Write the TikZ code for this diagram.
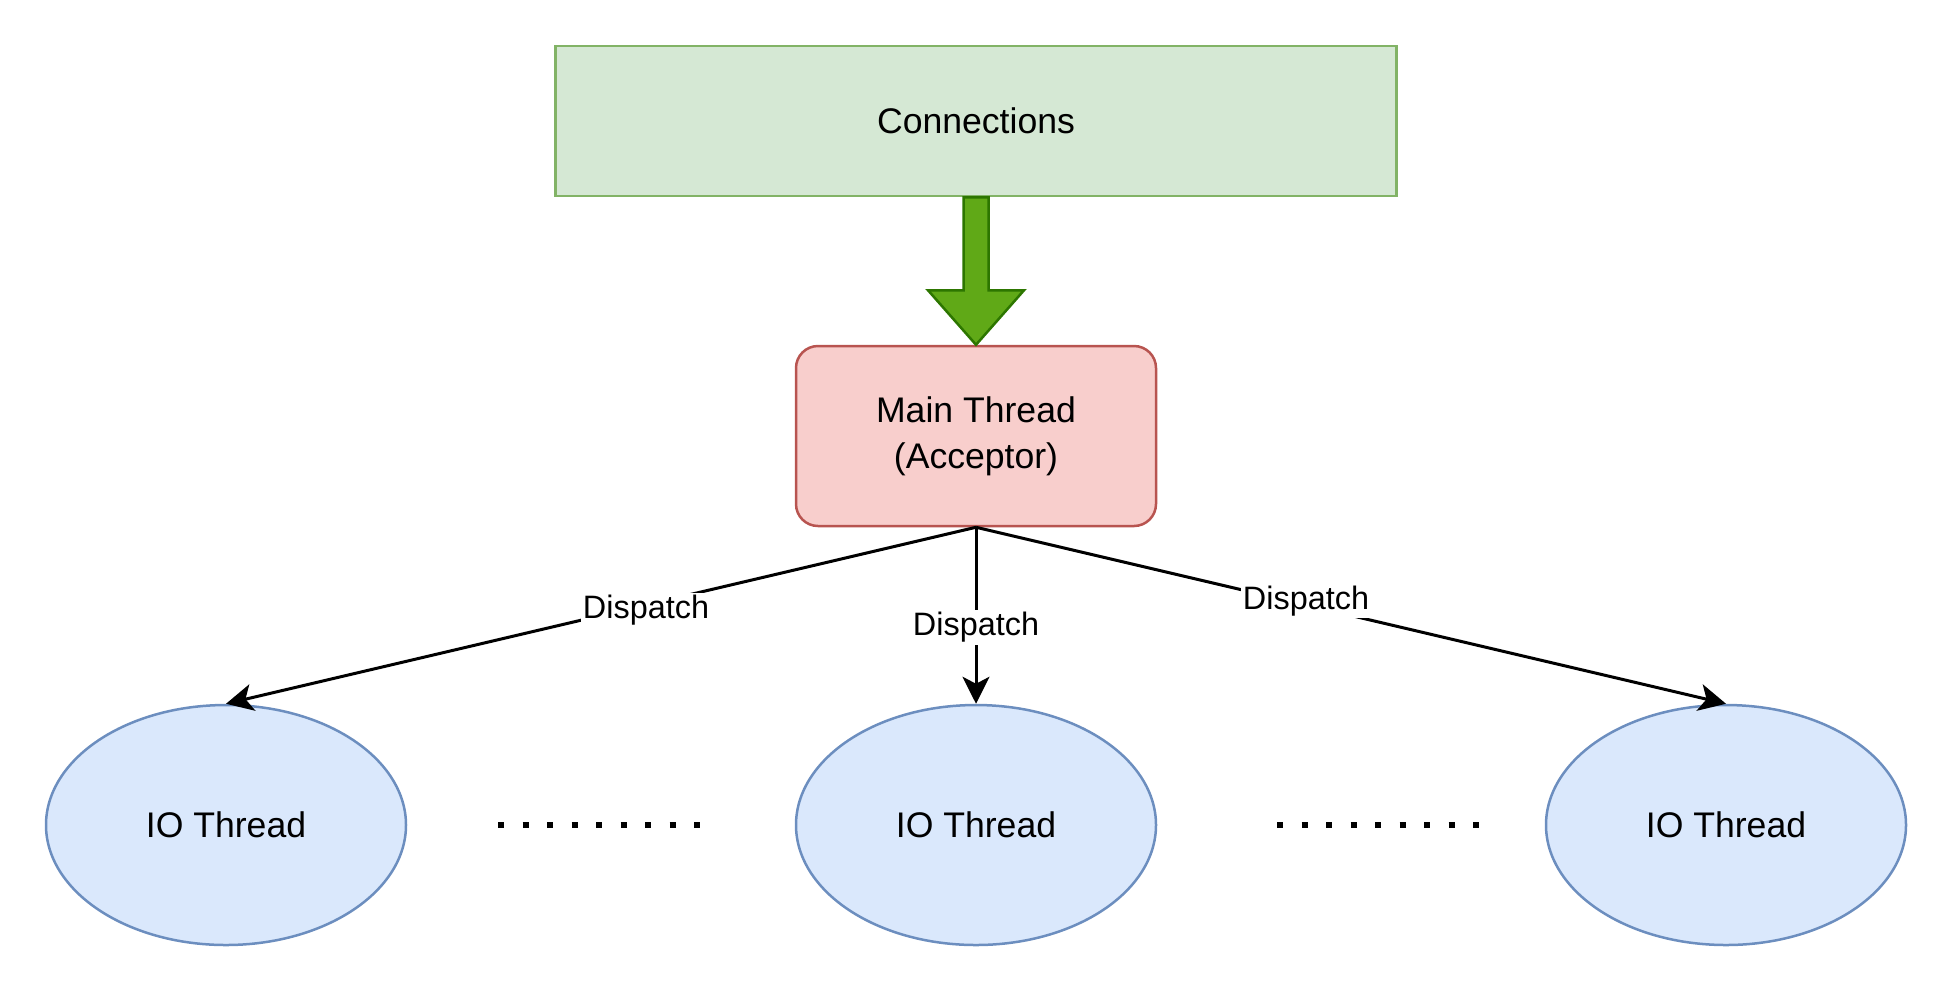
\documentclass[tikz,border=0pt]{standalone}
\usepackage{fontspec}
\setmainfont{Liberation Sans}
\usetikzlibrary{arrows.meta, positioning, calc, shapes.geometric}
\definecolor{connfill}{HTML}{D5E8D4}
\definecolor{connline}{HTML}{82B366}
\definecolor{mainfill}{HTML}{F8CECC}
\definecolor{mainline}{HTML}{B85450}
\definecolor{iofill}{HTML}{DAE8FC}
\definecolor{ioline}{HTML}{6C8EBF}
\definecolor{pushfill}{HTML}{60A917}
\definecolor{pushline}{HTML}{2D7600}
\newcommand{\iothread}[2]{%
  \node[ellipse, draw=ioline, fill=iofill, line width=1.25pt,
        minimum width=180pt, minimum height=120pt, inner sep=0pt,
        font=\fontsize{17.8}{21}\selectfont] (#1) at (#2,825) {IO Thread};}

\begin{document}
\begin{tikzpicture}[x=0.5pt, y=-0.5pt,
    dispatch/.style={-{Stealth[length=13.5pt, width=13.5pt, inset=3.5pt]}, line width=1.5pt},
    dispatchlabel/.style={fill=white, inner sep=1pt, font=\fontsize{16.2}{19}\selectfont},
    dotrow/.style={line width=3pt, dash pattern=on 3pt off 9.25pt}]
      \useasboundingbox (0,0) rectangle (1953,993);
      \node[draw=connline, fill=connfill, line width=1.25pt,
            minimum width=420.5pt, minimum height=75pt,
            font=\fontsize{17.8}{21}\selectfont] (conn) at (976,121) {Connections};
      \node[draw=mainline, fill=mainfill, line width=1.25pt, rounded corners=11pt,
            minimum width=180pt, minimum height=90pt, align=center,
            font=\fontsize{17.8}{23}\selectfont] (main) at (976,436)
            {Main Thread\\(Acceptor)};
      \iothread{io1}{226}
      \iothread{io2}{976}
      \iothread{io3}{1726}
      % fat arrow from the connections into the acceptor
      \draw[draw=pushline, fill=pushfill, line width=1.25pt]
        ($(conn.south)+(-12.5,0)$) -- ($(conn.south)+(-12.5,93)$)
        -- ($(conn.south)+(-48,93)$) -- (main.north)
        -- ($(conn.south)+(48,93)$) -- ($(conn.south)+(12.5,93)$)
        -- ($(conn.south)+(12.5,0)$) -- cycle;
      \draw[dispatch] (main.south) -- node[pos=0.44, yshift=-2.5pt, dispatchlabel] {Dispatch} (io1.north);
      \draw[dispatch] (main.south) -- node[pos=0.54, yshift=-2.5pt, dispatchlabel] {Dispatch} (io2.north);
      \draw[dispatch] (main.south) -- node[pos=0.44, yshift=2pt, dispatchlabel] {Dispatch} (io3.north);
      \draw[dotrow] (498,825) -- (700,825);
      \draw[dotrow] (1277,825) -- (1479,825);
    \end{tikzpicture}
\end{document}
